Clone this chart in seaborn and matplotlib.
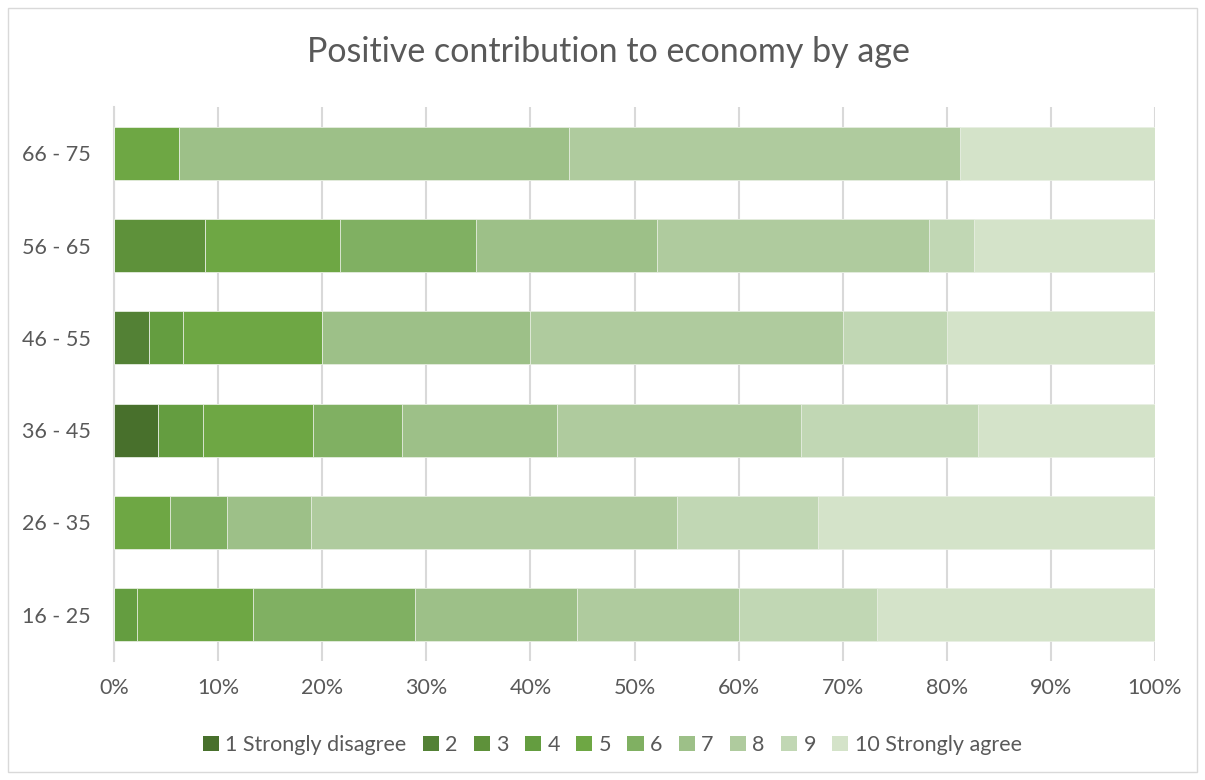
import matplotlib
matplotlib.use("Agg")
import matplotlib.pyplot as plt
import matplotlib.patches as mpatches
import numpy as np
import pandas as pd
import seaborn as sns

# ---- data (percent of respondents per answer) ----
ages = ["66 - 75", "56 - 65", "46 - 55", "36 - 45", "26 - 35", "16 - 25"]
answers = ["1 Strongly disagree", "2", "3", "4", "5", "6", "7", "8", "9", "10 Strongly agree"]
a1  = [0.0,   0.0,   0.0,   4.26,  0.0,   0.0]
a2  = [0.0,   0.0,   3.33,  0.0,   0.0,   0.0]
a3  = [0.0,   8.70,  0.0,   0.0,   0.0,   0.0]
a4  = [0.0,   0.0,   3.33,  4.26,  0.0,   2.22]
a5  = [6.25,  13.04, 13.33, 10.64, 5.41,  11.11]
a6  = [0.0,   13.04, 0.0,   8.51,  5.41,  15.56]
a7  = [37.50, 17.39, 20.00, 14.89, 8.11,  15.56]
a8  = [37.50, 26.09, 30.00, 23.40, 35.14, 15.56]
a9  = [0.0,   4.35,  10.00, 17.02, 13.51, 13.33]
a10 = [18.75, 17.39, 20.00, 17.02, 32.43, 26.67]
series = [a1, a2, a3, a4, a5, a6, a7, a8, a9, a10]

colors = ["#48702C", "#538135", "#5E913A", "#649D40", "#6EA744",
          "#80B062", "#9DC088", "#AFCB9E", "#C1D7B4", "#D4E3C9"]

sns.set_theme(style="white")
plt.rcParams["font.family"] = ["Lato", "DejaVu Sans"]

fig = plt.figure(figsize=(12.05, 7.8), dpi=100)
W, H = 1205, 780
ax = fig.add_axes([114 / W, 1 - 661 / H, (1155 - 114) / W, (661 - 107) / H])

cum = np.cumsum(np.array(series), axis=0)
# draw from the full stack down so each band shows its own segment
for i in range(len(answers) - 1, -1, -1):
    df = pd.DataFrame({"age": ages, "val": cum[i]})
    sns.barplot(data=df, x="val", y="age", order=ages, orient="h",
                color=colors[i], saturation=1, width=0.575,
                edgecolor="#E8EFE3", linewidth=0.6, ax=ax, zorder=3)

ax.set_xlim(0, 100)
ax.set_ylim(5.5, -0.5)
ax.set_xticks(np.arange(0, 101, 10))
ax.set_xticklabels([f"{v}%" for v in range(0, 101, 10)], fontsize=15.5, color="#595959")
ax.tick_params(axis="y", labelsize=15.5, labelcolor="#595959", length=0, pad=17)
ax.tick_params(axis="x", length=0, pad=12)
ax.set_xlabel("")
ax.set_ylabel("")
ax.grid(axis="x", color="#D9D9D9", linewidth=1.5, zorder=0)
ax.set_axisbelow(True)
for s in ["top", "right", "bottom"]:
    ax.spines[s].set_visible(False)
ax.spines["left"].set_color("#D9D9D9")
ax.spines["left"].set_linewidth(1.5)

fig.text(0.505, 1 - 52 / H, "Positive contribution to economy by age",
         ha="center", va="center", fontsize=24.5, color="#595959")

handles = [mpatches.Patch(facecolor=c, edgecolor="none", label=l) for c, l in zip(colors, answers)]
fig.legend(handles=handles, loc="center", bbox_to_anchor=(0.508, 1 - 745 / H), ncol=10,
           frameon=False, fontsize=15.5, handlelength=0.75, handleheight=0.75,
           handletextpad=0.3, columnspacing=0.75, labelcolor="#595959")

fig.patches.append(mpatches.Rectangle((8 / W, 8 / H), 1 - 16 / W, 1 - 16 / H,
                                      transform=fig.transFigure, fill=False,
                                      edgecolor="#D9D9D9", linewidth=1))

fig.savefig("out.png", dpi=100, facecolor="white")
